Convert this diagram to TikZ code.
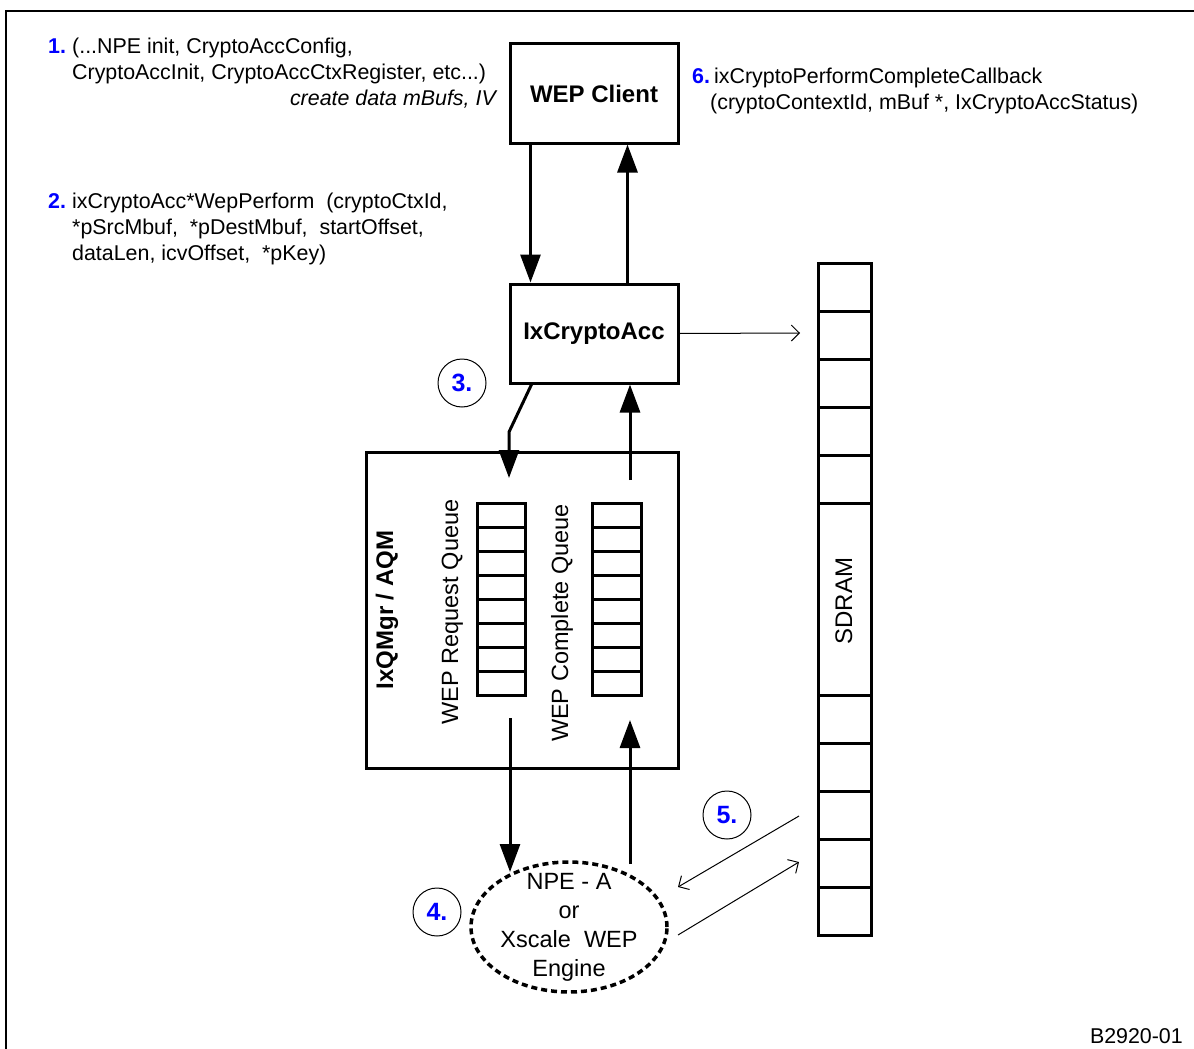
\documentclass[tikz,border=0pt]{standalone}
\usepackage{fontspec}
\setmainfont{Liberation Sans}
\usetikzlibrary{arrows.meta,shapes.geometric,calc}
\definecolor{numblue}{RGB}{0,0,255}
\tikzset{
  box/.style={draw, line width=3pt, minimum width=168pt, minimum height=99pt, inner sep=0pt,
    font=\bfseries\fontsize{24}{28}\selectfont},
  flow/.style={line width=3pt, -{Triangle[length=28pt,width=20pt]}},
  thinarrow/.style={line width=1pt, -{Straight Barb[length=8pt,width=16pt]}},
  num/.style={draw, circle, line width=1pt, minimum size=48pt, inner sep=0pt, text=numblue,
    font=\bfseries\fontsize{25}{28}\selectfont},
  txt/.style={anchor=base west, inner sep=0pt, font=\fontsize{21.4}{26}\selectfont},
  numtxt/.style={txt, text=numblue, font=\bfseries\fontsize{21.4}{26}\selectfont},
  vlabel/.style={anchor=base, inner sep=0pt, rotate=90, font=\fontsize{23.5}{28}\selectfont},
  cellline/.style={line width=3pt},
}
\begin{document}
\begin{tikzpicture}[x=1pt,y=-1pt]
\useasboundingbox (0,0) rectangle (1194,1049);
% outer frame (only top and left visible)
\draw[line width=2pt] (6,1060) -- (6,11) -- (1200,11);

% main boxes
\node[box] (wep) at (594,93.5) {WEP Client};
\node[box] (ixc) at (594,333.5) {IxCryptoAcc};
\node[draw, line width=3pt, minimum width=312pt, minimum height=316pt, inner sep=0pt] (qmgr) at (522,610) {};

% queue labels
\node[vlabel, font=\bfseries\fontsize{24}{28}\selectfont] (qmgrlbl) at (393,610) {IxQMgr / AQM};
\node[vlabel] (reqlbl) at (458,612) {WEP Request Queue};
\node[vlabel] (complbl) at (568,623) {WEP Complete Queue};

% queues
\node[draw, line width=3pt, minimum width=48pt, minimum height=192pt, inner sep=0pt] (reqq) at (501,599) {};
\foreach \i in {1,...,7} \draw[cellline] (477,503+24*\i) -- (525,503+24*\i);
\node[draw, line width=3pt, minimum width=49pt, minimum height=192pt, inner sep=0pt] (compq) at (616.5,599) {};
\foreach \i in {1,...,7} \draw[cellline] (592,503+24*\i) -- (641,503+24*\i);

% SDRAM
\node[draw, line width=3pt, minimum width=53pt, minimum height=672pt, inner sep=0pt] (sdram) at (844.5,599) {};
\foreach \yy in {311,359,407,455,503,695,743,791,839,887} \draw[cellline] (818,\yy) -- (871,\yy);
\node[anchor=base, inner sep=0pt, rotate=90, font=\fontsize{24}{28}\selectfont] (sdramlbl) at (852,601) {SDRAM};

% NPE engine
\node[draw, ellipse, line width=3.5pt, dash pattern=on 6pt off 4pt, minimum width=196pt, minimum height=130pt, inner sep=0pt] (npe) at (569,927) {};
\node[align=center, inner sep=0pt, font=\fontsize{23.5}{29}\selectfont] (npetxt) at (569,927) {NPE - A\\or\\Xscale\ \ WEP\\Engine};

% step circles
\node[num] (n3) at (462,383) {3.};
\node[num] (n4) at (437,912) {4.};
\node[num] (n5) at (727,815) {5.};

% coordinates for free ends
\coordinate (elbow) at (509,432);
\coordinate (reqin) at (509,478);
\coordinate (compout) at (630,480);
\coordinate (reqout) at (510,718);
\coordinate (npein) at (510,872);
\coordinate (npeout) at (630,864);
\coordinate (compin) at (630,720);
\coordinate (sdin) at (800,333);
\coordinate (s5a) at (799,816);
\coordinate (e5a) at (678,887);
\coordinate (e5b) at (678,935);
\coordinate (s5b) at (799,862);

% connectors
\draw[flow] ($(wep.south west)+(22,0)$) -- ($(ixc.north west)+(22,0)$);
\draw[flow] ($(ixc.north west)+(119,0)$) -- ($(wep.south west)+(119,0)$);
\draw[flow] ($(ixc.south west)+(23,0)$) -- (elbow) -- (reqin);
\draw[flow] (compout) -- (compout |- ixc.south);
\draw[flow] (reqout) -- (npein);
\draw[flow] (npeout) -- (compin);
\draw[thinarrow] (ixc.east) -- (sdin);
\draw[thinarrow] (s5a) -- (e5a);
\draw[thinarrow] (e5b) -- (s5b);

% texts
\node[numtxt] (t1n) at (48,54) {1.};
\node[txt] (t1a) at (72,54) {(...NPE init, CryptoAccConfig,};
\node[txt] (t1b) at (72,80) {CryptoAccInit, CryptoAccCtxRegister, etc...)};
\node[txt, anchor=base east, font=\itshape\fontsize{21.4}{26}\selectfont] (t1c) at (496,106) {create data mBufs, IV};

\node[numtxt] (t2n) at (48,208) {2.};
\node[txt] (t2a) at (72,208) {ixCryptoAcc*WepPerform\ \ (cryptoCtxId,};
\node[txt] (t2b) at (72,234) {*pSrcMbuf,\ \ *pDestMbuf,\ \ startOffset,};
\node[txt] (t2c) at (72,260) {dataLen, icvOffset,\ \ *pKey)};

\node[numtxt] (t6n) at (692,84) {6.};
\node[txt] (t6a) at (714,84) {ixCryptoPerformCompleteCallback};
\node[txt] (t6b) at (710,110) {(cryptoContextId, mBuf *, IxCryptoAccStatus)};

\node[txt, anchor=base east] (fig) at (1183,1043) {B2920-01};
\end{tikzpicture}
\end{document}
